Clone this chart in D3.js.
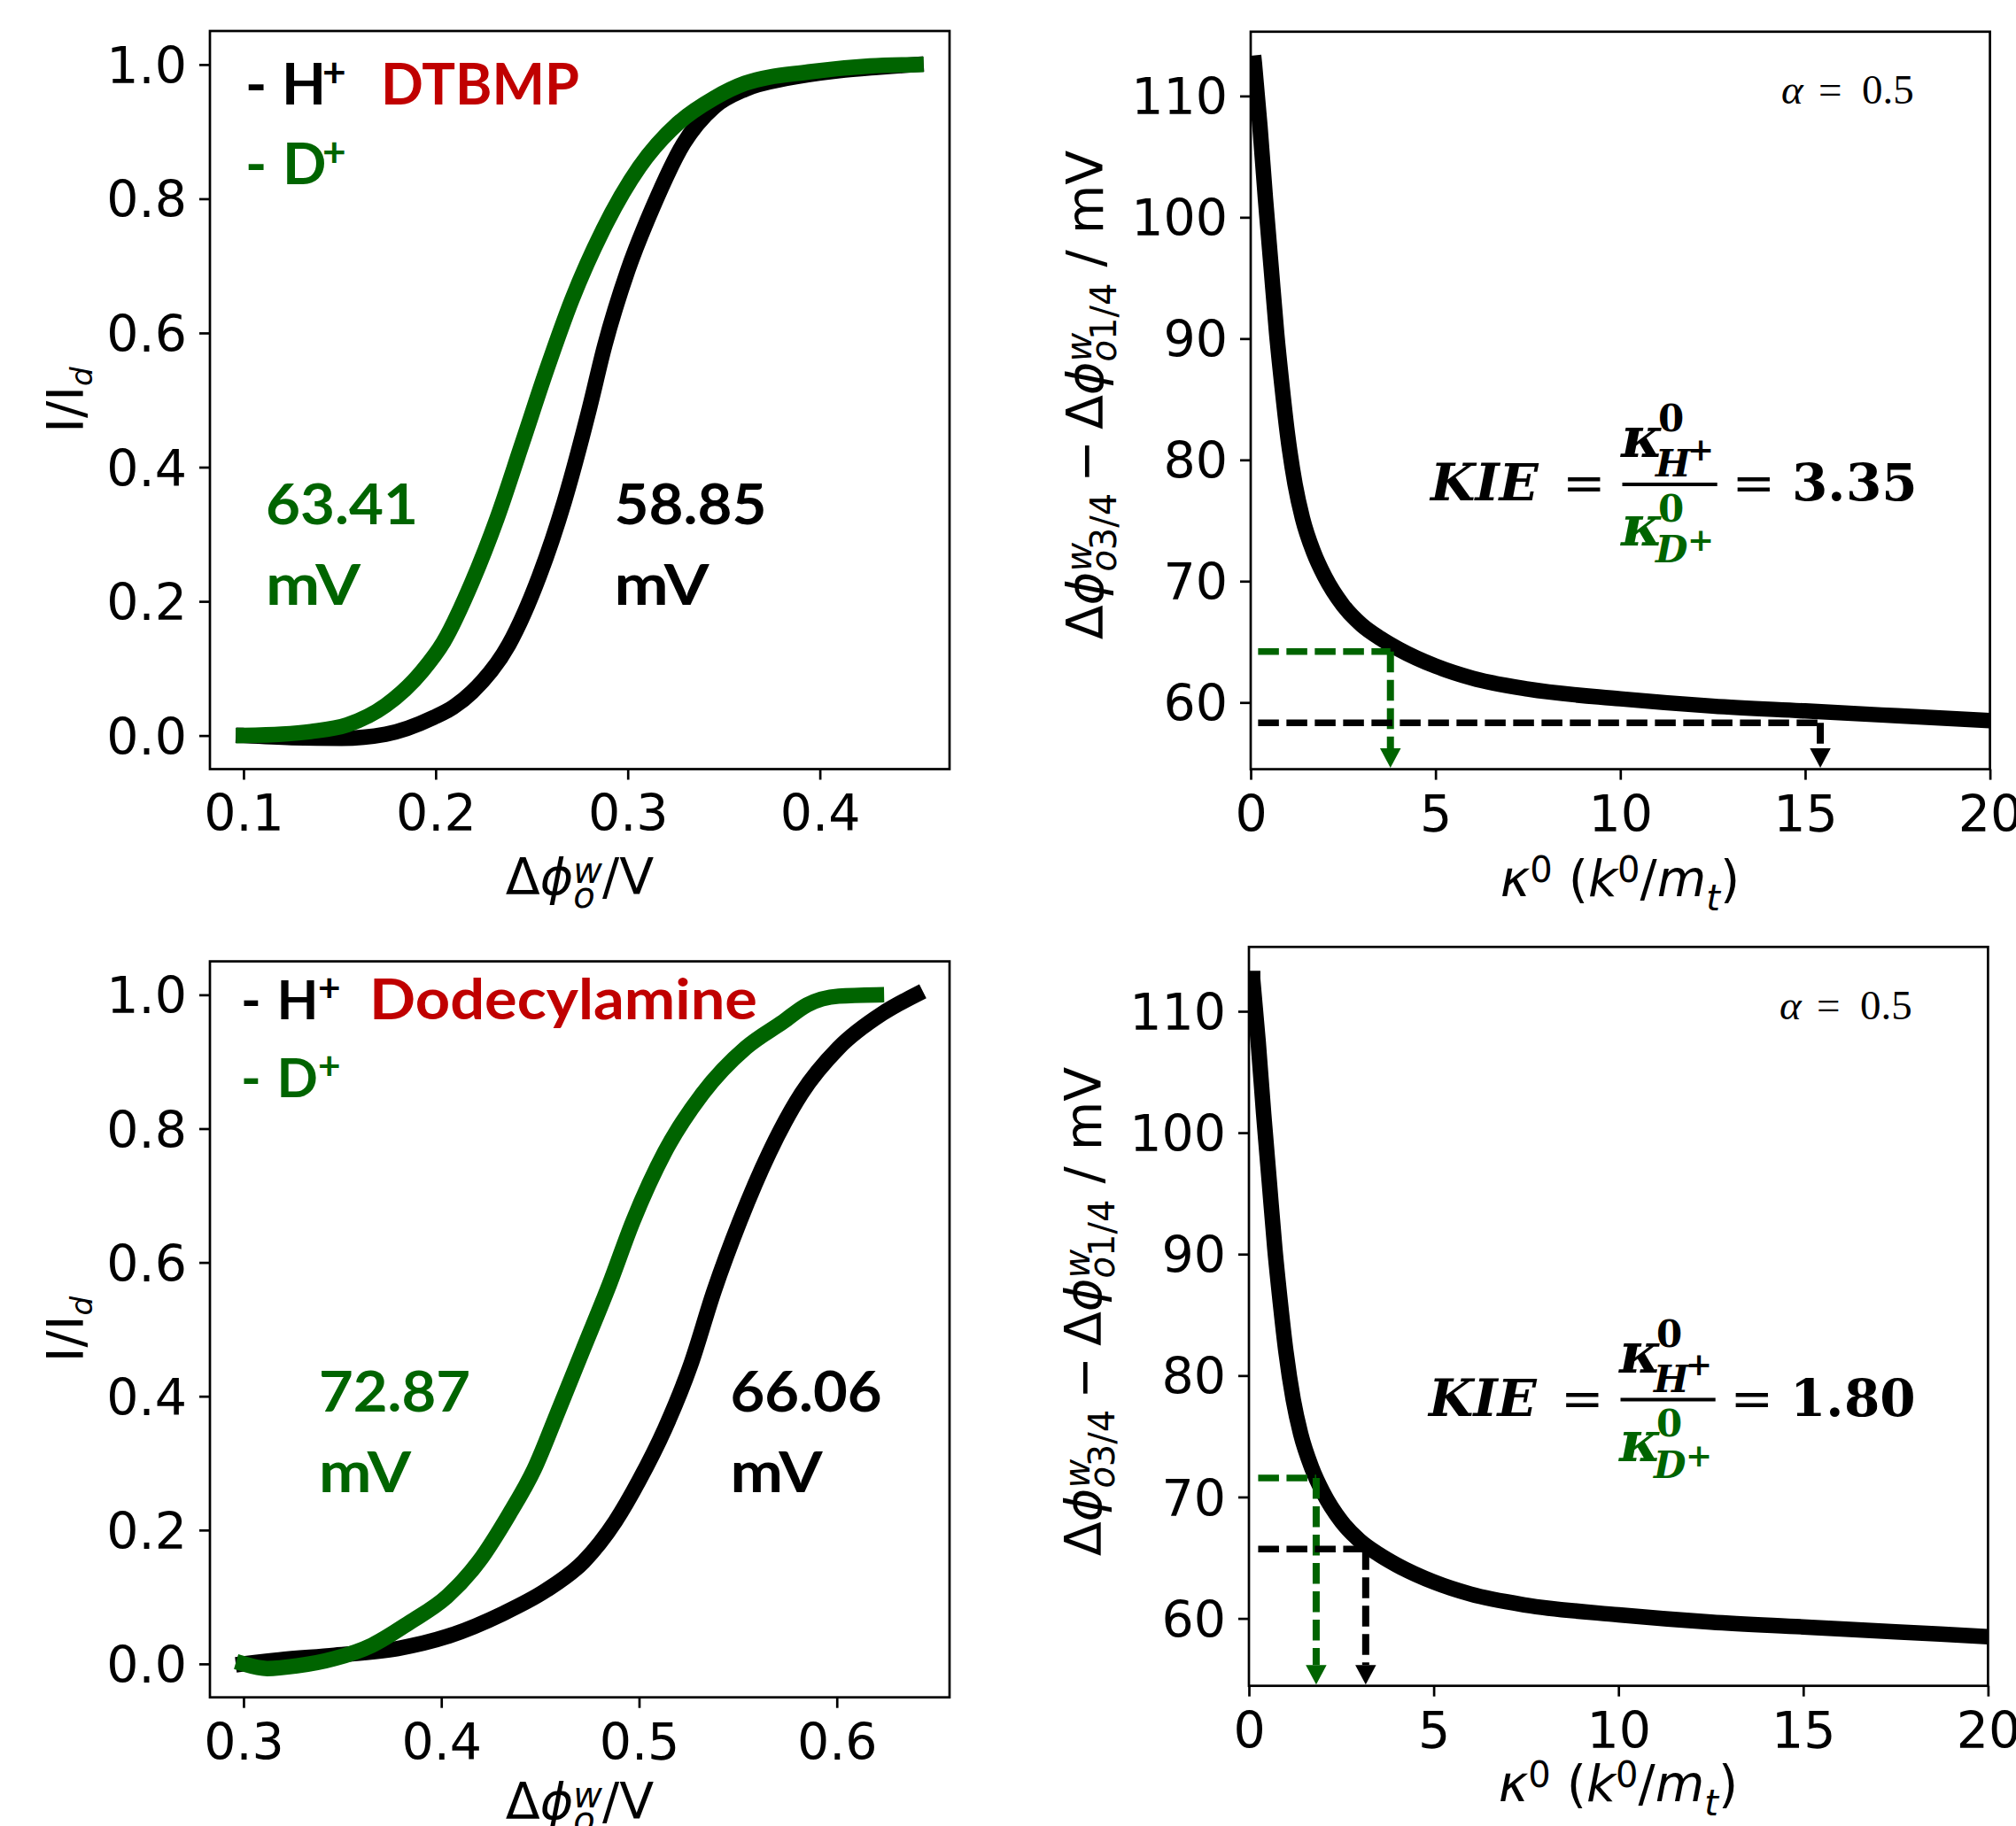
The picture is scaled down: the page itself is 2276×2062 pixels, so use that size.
<!DOCTYPE html>
<html>
<head>
<meta charset="utf-8">
<script src="https://cdn.jsdelivr.net/npm/d3@7"></script>
<style>
  body { margin: 0; background: #fff; }
  svg { display: block; }
</style>
</head>
<body>
<svg id="fig" width="2276" height="2062"></svg>
<script>
// ---------------- data ----------------
// Normalised voltammograms (I/Id vs Galvani potential, V), DTBMP system
const dtbmpPotH = [0.100, 0.125, 0.151, 0.174, 0.199, 0.209, 0.219, 0.238, 0.254, 0.267, 0.280, 0.288, 0.300, 0.313, 0.329, 0.345, 0.361, 0.384, 0.410, 0.430, 0.450];
const dtbmpCurH = [0.000, -0.003, -0.004, 0.002, 0.027, 0.042, 0.065, 0.135, 0.238, 0.349, 0.487, 0.581, 0.693, 0.787, 0.882, 0.937, 0.963, 0.980, 0.991, 0.996, 1.000];
const dtbmpPotD = [0.100, 0.120, 0.135, 0.154, 0.174, 0.193, 0.204, 0.219, 0.232, 0.245, 0.258, 0.271, 0.287, 0.306, 0.326, 0.345, 0.361, 0.394, 0.426, 0.450];
const dtbmpCurD = [0.000, 0.002, 0.006, 0.016, 0.045, 0.096, 0.139, 0.229, 0.324, 0.435, 0.547, 0.650, 0.753, 0.847, 0.912, 0.950, 0.972, 0.989, 0.998, 1.000];

// Dodecylamine system
const dodecPotH = [0.300, 0.318, 0.346, 0.378, 0.403, 0.431, 0.453, 0.472, 0.488, 0.500, 0.513, 0.526, 0.538, 0.551, 0.566, 0.582, 0.601, 0.623, 0.640];
const dodecCurH = [0.000, 0.006, 0.013, 0.023, 0.041, 0.075, 0.110, 0.153, 0.213, 0.274, 0.351, 0.446, 0.558, 0.662, 0.765, 0.852, 0.921, 0.972, 1.000];
const dodecPotD = [0.300, 0.312, 0.327, 0.346, 0.365, 0.384, 0.403, 0.419, 0.434, 0.447, 0.459, 0.472, 0.485, 0.497, 0.513, 0.532, 0.554, 0.573, 0.585, 0.601, 0.620];
const dodecCurD = [0.000, -0.007, -0.003, 0.008, 0.028, 0.062, 0.101, 0.153, 0.222, 0.291, 0.377, 0.472, 0.567, 0.662, 0.765, 0.852, 0.921, 0.960, 0.985, 0.998, 1.000];

// Working curve: quartile potential difference (mV) vs dimensionless rate constant, alpha = 0.5
const kappa      = [0.1, 0.25, 0.4, 0.55, 0.7, 0.85, 1.0, 1.2, 1.4, 1.7, 2.0, 2.5, 3.0, 3.5, 4.0, 5, 6, 7.5, 10, 12.5, 15, 17.5, 20];
const quartileMV = [112.7, 107.5, 101.5, 96.0, 90.5, 86.0, 82.0, 78.0, 75.2, 72.4, 70.4, 68.0, 66.4, 65.3, 64.4, 63.0, 62.0, 61.1, 60.3, 59.7, 59.3, 58.9, 58.5];

// Read-off guides: [kappa, quartile width in mV]
const dtbmpGuideD = [3.78, 64.2];
const dtbmpGuideH = [15.41, 58.33];
const dodecGuideD = [1.82, 71.56];
const dodecGuideH = [3.16, 65.72];

// Tick values
const dtbmpPotTicks = [0.1, 0.2, 0.3, 0.4];
const dodecPotTicks = [0.3, 0.4, 0.5, 0.6];
const currentTicks  = [0.0, 0.2, 0.4, 0.6, 0.8, 1.0];
const kappaTicks    = [0, 5, 10, 15, 20];
const widthTicks    = [60, 70, 80, 90, 100, 110];

// Printed results
const dtbmpWidthD = "63.41", dtbmpWidthH = "58.85", dtbmpKIE = "3.35";
const dodecWidthD = "72.87", dodecWidthH = "66.06", dodecKIE = "1.80";

// ---------------- style ----------------
const GREEN = "#006400", RED = "#c00000", BLACK = "#000";
const AX_FONT = "DejaVu Sans", AX_SIZE = 57;
const SPINE_W = 2.7, TICK_LEN = 12;
const CURVE_W = 17.5;

const svg = d3.select("#fig");

// ---------------- helpers ----------------
function typeset(parent, runs, o) {
  const g = parent.append("g").attr("transform", `translate(${o.x},${o.y}) rotate(${o.rotate || 0})`);
  const inner = g.append("g");
  const fam = o.family || AX_FONT, base = o.size || AX_SIZE, fill = o.fill || BLACK;
  function put(r, x0) {
    const t = inner.append("text")
      .attr("x", x0).attr("y", -(r.up || 0))
      .attr("font-family", r.fam || fam)
      .attr("font-size", r.s || base)
      .attr("font-style", r.it ? "italic" : "normal")
      .attr("font-weight", r.b ? "bold" : "normal")
      .attr("fill", r.fill || fill)
      .text(r.t);
    return t.node().getComputedTextLength();
  }
  function seq(list, x0) {
    let cx = x0;
    list.forEach(r => {
      if (r.gap !== undefined) { cx += r.gap; return; }
      if (r.stack) { cx += Math.max(...r.stack.map(s => seq(s, cx) - cx)); return; }
      cx += put(r, cx) + (r.kern || 0);
    });
    return cx;
  }
  const w = seq(runs, 0);
  const shift = o.anchor === "middle" ? -w / 2 : o.anchor === "end" ? -w : 0;
  inner.attr("transform", `translate(${shift},0)`);
  return g;
}

function txt(x, y, s, opt) {
  const t = svg.append("text").attr("x", x).attr("y", y)
    .attr("font-family", opt.fam || "Lato")
    .attr("font-weight", opt.w || "bold")
    .attr("font-style", opt.it ? "italic" : "normal")
    .attr("font-size", opt.s)
    .attr("fill", opt.fill || BLACK)
    .text(s);
  if (opt.len) t.attr("textLength", opt.len).attr("lengthAdjust", "spacingAndGlyphs");
  return t;
}

function makePanel(box, xDom, yDom, id) {
  const x = d3.scaleLinear().domain(xDom).range([box.l, box.r]);
  const y = d3.scaleLinear().domain(yDom).range([box.b, box.t]);
  svg.append("clipPath").attr("id", id).append("rect")
    .attr("x", box.l).attr("y", box.t).attr("width", box.r - box.l).attr("height", box.b - box.t);
  const plot = svg.append("g").attr("clip-path", `url(#${id})`);
  return { x, y, plot, box };
}

function drawAxes(p, xTicks, yTicks, xFmt, yFmt) {
  const gx = svg.append("g").attr("transform", `translate(0,${p.box.b})`)
    .call(d3.axisBottom(p.x).tickValues(xTicks).tickFormat(xFmt).tickSize(TICK_LEN).tickSizeOuter(0).tickPadding(17.5));
  const gy = svg.append("g").attr("transform", `translate(${p.box.l},0)`)
    .call(d3.axisLeft(p.y).tickValues(yTicks).tickFormat(yFmt).tickSize(TICK_LEN).tickSizeOuter(0).tickPadding(14));
  [gx, gy].forEach(g => {
    g.attr("font-family", AX_FONT).attr("font-size", AX_SIZE);
    g.select(".domain").remove();
    g.selectAll(".tick line").attr("stroke", BLACK).attr("stroke-width", SPINE_W);
    g.selectAll(".tick text").attr("fill", BLACK);
  });
  gy.selectAll(".tick text").attr("dy", "0.36em");
  svg.append("rect")
    .attr("x", p.box.l).attr("y", p.box.t)
    .attr("width", p.box.r - p.box.l).attr("height", p.box.b - p.box.t)
    .attr("fill", "none").attr("stroke", BLACK).attr("stroke-width", SPINE_W);
}

function drawCurve(p, xs, ys, color) {
  const pts = xs.map((v, i) => [v, ys[i]]);
  const line = d3.line().x(d => p.x(d[0])).y(d => p.y(d[1])).curve(d3.curveMonotoneX);
  p.plot.append("path").attr("d", line(pts))
    .attr("fill", "none").attr("stroke", color).attr("stroke-width", CURVE_W)
    .attr("stroke-linecap", "square").attr("stroke-linejoin", "round");
}

function drawGuide(p, guide, startK, color) {
  const [k, w] = guide;
  const dash = "23.5 8.5";
  const headH = 22, headW = 23.5;
  const yBot = p.y.range()[0] - 1.5;
  p.plot.append("line")
    .attr("x1", p.x(startK)).attr("x2", p.x(k)).attr("y1", p.y(w)).attr("y2", p.y(w))
    .attr("stroke", color).attr("stroke-width", 7.5).attr("stroke-dasharray", dash);
  p.plot.append("line")
    .attr("x1", p.x(k)).attr("x2", p.x(k)).attr("y1", p.y(w)).attr("y2", yBot - headH)
    .attr("stroke", color).attr("stroke-width", 8).attr("stroke-dasharray", dash);
  const cx = p.x(k);
  p.plot.append("path")
    .attr("d", `M${cx - headW / 2},${yBot - headH}L${cx + headW / 2},${yBot - headH}L${cx},${yBot}Z`)
    .attr("fill", color);
}

function kieFormula(p, value) {
  const x0 = p.box.l + 205, b = p.box.t + 529.5;
  const F = "DejaVu Serif";
  txt(x0 - 2, b, "KIE", { fam: F, s: 58, it: true });
  txt(x0 + 147, b, "=", { fam: F, s: 58, w: "normal" });
  svg.append("line").attr("x1", x0 + 214.5).attr("x2", x0 + 321.7)
    .attr("y1", b - 18.3).attr("y2", b - 18.3).attr("stroke", BLACK).attr("stroke-width", 4);
  // numerator
  txt(x0 + 213, b - 49, "κ", { fam: F, s: 64, it: true });
  txt(x0 + 255, b - 78.3, "0", { fam: F, s: 42 });
  txt(x0 + 252, b - 27.3, "H", { fam: F, s: 42, it: true });
  txt(x0 + 288, b - 45.6, "+", { fam: F, s: 36 });
  // denominator
  txt(x0 + 213, b + 51, "κ", { fam: F, s: 64, it: true, fill: GREEN });
  txt(x0 + 255, b + 23.3, "0", { fam: F, s: 42, fill: GREEN });
  txt(x0 + 252, b + 70, "D", { fam: F, s: 42, it: true, fill: GREEN });
  txt(x0 + 288, b + 57, "+", { fam: F, s: 36, fill: GREEN });
  txt(x0 + 338.6, b, "=", { fam: F, s: 58, w: "normal" });
  const [a, c] = value.split(".");
  txt(x0 + 406, b, a + ".", { fam: F, s: 58 });
  txt(x0 + 467, b, c, { fam: F, s: 58 });
}

function alphaNote(p) {
  const b = p.box.t + 81.5, x0 = p.box.l + 599;
  const F = "Liberation Serif";
  txt(x0, b, "α", { fam: F, s: 47, it: true, w: "normal" });
  txt(x0 + 42, b, "=", { fam: F, s: 47, w: "normal" });
  txt(x0 + 91, b, "0.5", { fam: F, s: 47, w: "normal" });
}

const fmt1 = d3.format(".1f"), fmtInt = d3.format("d");

const potLabel = [
  { t: "Δ" }, { t: "ϕ", it: true },
  { stack: [[{ t: "w", it: true, s: 40, up: 13 }], [{ t: "o", it: true, s: 40, up: -15 }]] },
  { t: "/V" }
];
const curLabel = [{ t: "I/I" }, { t: "d", it: true, s: 34, up: -10 }];
const widthLabel = [
  { t: "Δ" }, { t: "ϕ", it: true },
  { stack: [[{ t: "w", it: true, s: 40, up: 13 }], [{ t: "o", it: true, s: 40, up: -15 }, { t: "3/4", s: 40, up: -15 }]] },
  { gap: 12 }, { t: "−" }, { gap: 12 },
  { t: "Δ" }, { t: "ϕ", it: true },
  { stack: [[{ t: "w", it: true, s: 40, up: 13 }], [{ t: "o", it: true, s: 40, up: -15 }, { t: "1/4", s: 40, up: -15 }]] },
  { gap: 18 }, { t: "/" }, { gap: 18 }, { t: "mV" }
];
const kappaLabel = [
  { t: "κ", it: true }, { t: "0", s: 40, up: 16 }, { gap: 18 },
  { t: "(" }, { t: "k", it: true }, { t: "0", s: 40, up: 16 }, { t: "/" },
  { t: "m", it: true }, { t: "t", it: true, s: 40, up: -16 }, { t: ")" }
];

// ---------------- top-left: DTBMP voltammograms ----------------
const tl = makePanel({ l: 237, r: 1072, t: 35, b: 868.5 }, [0.0825, 0.4675], [-0.05, 1.05], "clipTL");
drawCurve(tl, dtbmpPotH, dtbmpCurH, BLACK);
drawCurve(tl, dtbmpPotD, dtbmpCurD, GREEN);
drawAxes(tl, dtbmpPotTicks, currentTicks, fmt1, fmt1);
typeset(svg, potLabel, { x: 654.5, y: 1010, anchor: "middle" });
typeset(svg, curLabel, { x: 94.3, y: 451.5, anchor: "middle", rotate: -90 });
txt(277, 117.7, "-", { s: 65 });
txt(318, 117.7, "H", { s: 65 });
txt(364, 97.7, "+", { s: 46 });
txt(430, 117.7, "DTBMP", { s: 65, fill: RED, len: 224 });
txt(277, 207.7, "-", { s: 65, fill: GREEN });
txt(319, 207.7, "D", { s: 65, fill: GREEN });
txt(364, 187.7, "+", { s: 46, fill: GREEN });
txt(300, 592, dtbmpWidthD, { s: 64, fill: GREEN, len: 172 });
txt(300, 683, "mV", { s: 64, fill: GREEN, len: 107 });
txt(693.5, 592, dtbmpWidthH, { s: 64, len: 172 });
txt(693.5, 683, "mV", { s: 64, len: 107 });

// ---------------- top-right: working curve, DTBMP ----------------
const tr = makePanel({ l: 1412, r: 2246.6, t: 35.8, b: 868.6 }, [0, 20], [54.5, 115.3], "clipTR");
drawCurve(tr, kappa, quartileMV, BLACK);
drawGuide(tr, dtbmpGuideD, 0.2, GREEN);
drawGuide(tr, dtbmpGuideH, 0.2, BLACK);
drawAxes(tr, kappaTicks, widthTicks, fmtInt, fmtInt);
typeset(svg, kappaLabel, { x: 1829, y: 1012, anchor: "middle" });
typeset(svg, widthLabel, { x: 1245, y: 446, anchor: "middle", rotate: -90 });
kieFormula(tr, dtbmpKIE);
alphaNote(tr);

// ---------------- bottom-left: Dodecylamine voltammograms ----------------
const bl = makePanel({ l: 237, r: 1072, t: 1085.6, b: 1916.7 }, [0.283, 0.657], [-0.05, 1.05], "clipBL");
drawCurve(bl, dodecPotH, dodecCurH, BLACK);
drawCurve(bl, dodecPotD, dodecCurD, GREEN);
drawAxes(bl, dodecPotTicks, currentTicks, fmt1, fmt1);
typeset(svg, potLabel, { x: 654.5, y: 2054, anchor: "middle" });
typeset(svg, curLabel, { x: 94.3, y: 1501, anchor: "middle", rotate: -90 });
txt(272, 1150.8, "-", { s: 61 });
txt(312.5, 1150.8, "H", { s: 61 });
txt(359, 1131, "+", { s: 44 });
txt(417, 1150.8, "Dodecylamine", { s: 64, fill: RED, len: 438 });
txt(272, 1238.8, "-", { s: 61, fill: GREEN });
txt(312.5, 1238.8, "D", { s: 61, fill: GREEN });
txt(359, 1219, "+", { s: 44, fill: GREEN });
txt(360, 1594, dodecWidthD, { s: 64, fill: GREEN, len: 171 });
txt(360, 1685.3, "mV", { s: 64, fill: GREEN, len: 104 });
txt(824.5, 1594, dodecWidthH, { s: 64, len: 171 });
txt(824.5, 1685.3, "mV", { s: 64, len: 104 });

// ---------------- bottom-right: working curve, Dodecylamine ----------------
const br = makePanel({ l: 1410, r: 2244.4, t: 1069.3, b: 1903.7 }, [0, 20], [54.45, 115.3], "clipBR");
drawCurve(br, kappa, quartileMV, BLACK);
drawGuide(br, dodecGuideD, 0.25, GREEN);
drawGuide(br, dodecGuideH, 0.25, BLACK);
drawAxes(br, kappaTicks, widthTicks, fmtInt, fmtInt);
typeset(svg, kappaLabel, { x: 1827, y: 2034, anchor: "middle" });
typeset(svg, widthLabel, { x: 1243, y: 1481, anchor: "middle", rotate: -90 });
kieFormula(br, dodecKIE);
alphaNote(br);
</script>
</body>
</html>
